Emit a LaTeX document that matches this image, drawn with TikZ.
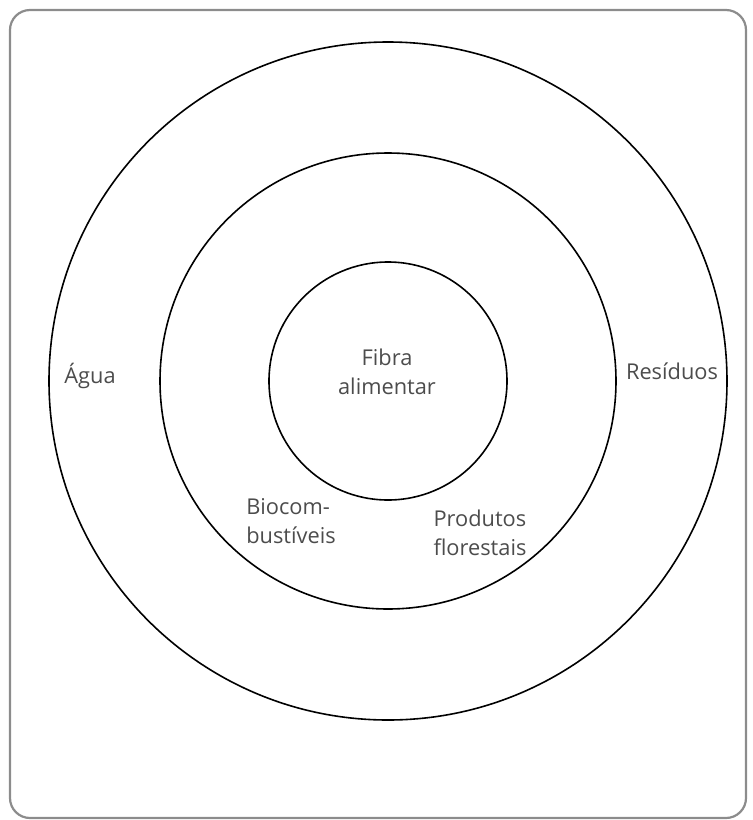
\documentclass[tikz,border=0pt]{standalone}
\usepackage{fontspec}
\setmainfont{Open Sans}
\usepackage{tikz}

\begin{document}
\begin{tikzpicture}[x=0.5pt,y=-0.5pt,
  lbl/.style={text=black!70,font=\fontsize{10.9}{14.5}\selectfont,align=left,inner sep=0pt}]
\useasboundingbox (0,0) rectangle (753,820);
\draw[black!45,line width=1.1pt,rounded corners=10pt] (10,10) rectangle (746,818);
\draw[line width=0.8pt] (388,381) circle (339);
\draw[line width=0.8pt] (388,381) circle (228);
\draw[line width=0.8pt] (388,381) circle (119);
\node[lbl] (agua) at (90,376) {Água};
\node[lbl] (residuos) at (672,371) {Resíduos};
\node[lbl,align=center] (fibra) at (387,372) {Fibra\\alimentar};
\node[lbl] (bio) at (291,521) {Biocom-\\bustíveis};
\node[lbl] (prod) at (480,533) {Produtos\\florestais};
\end{tikzpicture}
\end{document}
